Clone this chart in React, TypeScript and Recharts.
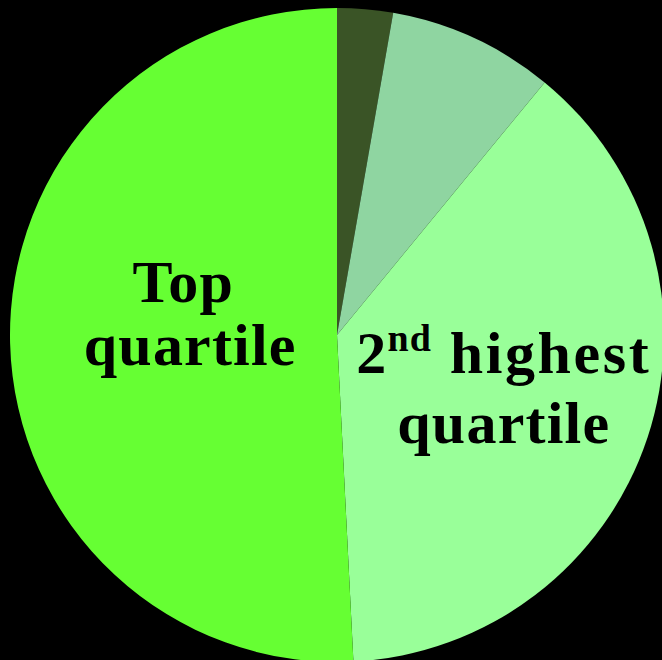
import { Cell, Pie, PieChart } from "recharts";

const groups = ["Bottom quartile", "3rd quartile", "2nd highest quartile", "Top quartile"];
const shares = [2.75, 8.2, 38.25, 50.8];
const colors = ["#3a5426", "#8fd5a1", "#99ff99", "#66ff33"];

const data = groups.map((name, i) => ({ name, value: shares[i] }));

const FONT = "'Liberation Serif', 'Times New Roman', serif";

type LabelProps = {
  cx: number;
  cy: number;
  index: number;
  outerRadius: number;
};

function SliceLabel({ cx, cy, index, outerRadius }: LabelProps) {
  const r = outerRadius;
  const common = {
    fill: "#000",
    fontFamily: FONT,
    fontWeight: 700,
    fontSize: 60,
    letterSpacing: 1.2,
    textAnchor: "middle" as const,
  };
  if (index === 3) {
    const x = cx - r * 0.455;
    return (
      <g>
        <text {...common} x={x - 5} y={cy - r * 0.1}>Top</text>
        <text {...common} x={x + 2} y={cy + r * 0.092}>quartile</text>
      </g>
    );
  }
  if (index === 2) {
    const x = cx + r * 0.51;
    return (
      <g>
        <text {...common} x={x + 0} y={cy + r * 0.116}>
          2<tspan dy={-22} fontSize={38}>nd</tspan>
          <tspan dy={22} letterSpacing={2.6}> highest</tspan>
        </text>
        <text {...common} x={x} y={cy + r * 0.33}>quartile</text>
      </g>
    );
  }
  return null;
}

export default function App() {
  return (
    <div style={{ position: "fixed", left: 0, top: 0, width: 662, height: 660, background: "#000" }}>
      <PieChart width={662} height={660} margin={{ top: 0, right: 0, bottom: 0, left: 0 }}>
        <Pie
          data={data}
          dataKey="value"
          nameKey="name"
          cx={337}
          cy={335}
          outerRadius={327}
          startAngle={90}
          endAngle={-270}
          stroke="none"
          labelLine={false}
          label={(props: any) => <SliceLabel {...props} />}
          isAnimationActive={false}
        >
          {data.map((d, i) => (
            <Cell key={d.name} fill={colors[i]} />
          ))}
        </Pie>
      </PieChart>
    </div>
  );
}
